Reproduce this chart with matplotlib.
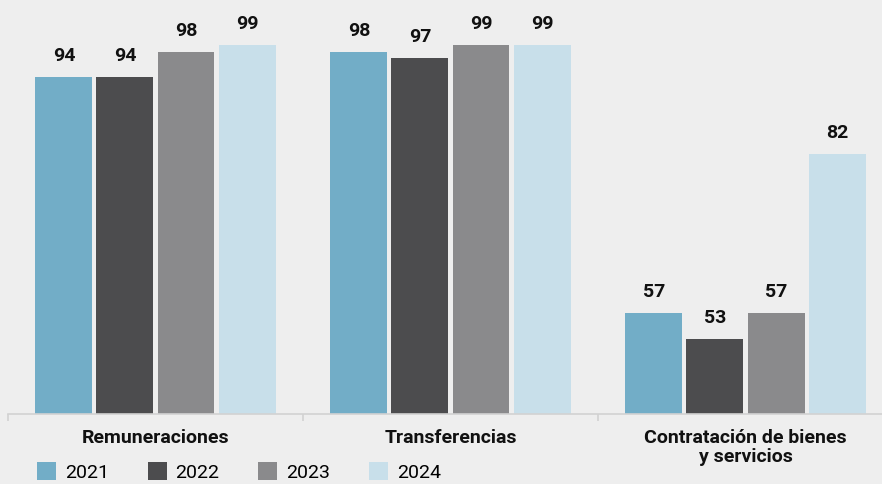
import numpy as np
import matplotlib.pyplot as plt
from matplotlib.ticker import FixedLocator

# data
categories = ['Remuneraciones', 'Transferencias', 'Contratación de bienes\ny servicios']
years = ['2021', '2022', '2023', '2024']
values_2021 = [94, 98, 57]
values_2022 = [94, 97, 53]
values_2023 = [98, 99, 57]
values_2024 = [99, 99, 82]
series = [values_2021, values_2022, values_2023, values_2024]
colors = ['#72adc7', '#4c4c4e', '#8a8a8c', '#c8dfea']

plt.rcParams['font.family'] = ['Roboto', 'DejaVu Sans']

W, H = 882, 484
fig = plt.figure(figsize=(W / 100, H / 100), dpi=100, facecolor='#eeeeee')
# axes spans 885 px wide starting at x=8, bottom of plot area at y=414
ax = fig.add_axes([8 / W, 70 / H, 885 / W, 414 / H])
ax.set_facecolor('none')

x = np.arange(len(categories))
step = 0.207
width = 0.193
bars = []
for i, (vals, col, yr) in enumerate(zip(series, colors, years)):
    b = ax.bar(x + (i - 1.5) * step, vals, width, bottom=0, color=col, label=yr, zorder=2)
    bars.append(b)
    for xi, v in zip(x + (i - 1.5) * step, vals):
        ax.annotate(f'{v}', (xi, v), xytext=(0, 11.5), textcoords='offset points',
                    ha='center', va='baseline', fontsize=14, fontweight='bold', color='#111111')

ax.set_xlim(-0.5, 2.5)
ax.set_ylim(41.2, 106.1)

for s in ['top', 'right', 'left']:
    ax.spines[s].set_visible(False)
ax.spines['bottom'].set_color('#d2d2d2')
ax.spines['bottom'].set_linewidth(1.2)
ax.set_yticks([])

ax.set_xticks(x)
ax.set_xticklabels(categories, fontsize=14, fontweight='bold', color='#111111', linespacing=1.05)
ax.tick_params(axis='x', which='major', length=0, pad=11)
ax.xaxis.set_minor_locator(FixedLocator([-0.5, 0.5, 1.5, 2.5]))
ax.tick_params(axis='x', which='minor', length=5, color='#d2d2d2', width=1.2)

fig.legend(handles=bars, labels=years, loc='center left', bbox_to_anchor=(37 / W, 1 - 472 / H),
           ncol=4, frameon=False, fontsize=14, handlelength=0.98, handleheight=0.98,
           handletextpad=0.45, columnspacing=2.0, borderaxespad=0, borderpad=0)

fig.savefig('out.png', dpi=100, facecolor=fig.get_facecolor())
